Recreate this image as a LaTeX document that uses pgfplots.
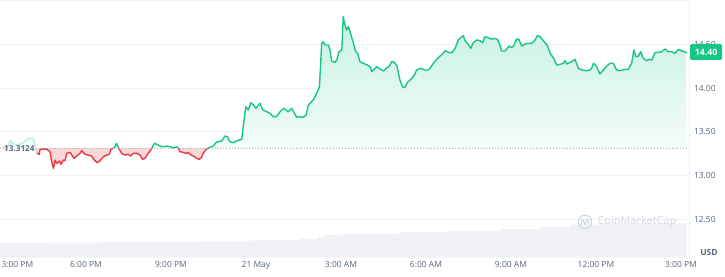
\documentclass[border=0pt]{standalone}
\usepackage{pgfplots}
\pgfplotsset{compat=1.18}
\usepackage{fontspec}
\setmainfont{Open Sans}
\definecolor{cmcgreen}{HTML}{16C784}
\definecolor{cmcred}{HTML}{EA3943}
\definecolor{gridc}{HTML}{EFF2F5}
\definecolor{labelc}{HTML}{58667E}
\definecolor{volc}{HTML}{EFF1F5}
\definecolor{wmark}{HTML}{D3D8E0}
\definecolor{basec}{HTML}{A6B0C3}
% rows 0 and 1: the 13.3124 reference level (close the filled area); rows 2.. : price
\pgfplotstableread{
h p
24.20 13.3124
-0.03 13.3124
-0.03 13.314
0.07 13.325
0.14 13.291
0.25 13.336
0.32 13.405
0.39 13.371
0.60 13.348
0.81 13.382
0.95 13.417
1.09 13.428
1.16 13.394
1.26 13.253
1.35 13.241
1.38 13.299
1.61 13.302
1.73 13.271
1.79 13.157
1.85 13.081
1.91 13.176
1.97 13.138
2.06 13.165
2.12 13.127
2.20 13.176
2.26 13.168
2.32 13.253
2.44 13.264
2.50 13.233
2.58 13.196
2.67 13.222
2.79 13.253
2.85 13.283
2.97 13.241
3.08 13.233
3.20 13.222
3.29 13.176
3.40 13.145
3.49 13.168
3.61 13.214
3.73 13.233
3.82 13.241
3.88 13.299
3.96 13.310
4.02 13.328
4.08 13.367
4.14 13.322
4.18 13.299
4.26 13.253
4.38 13.233
4.49 13.241
4.58 13.222
4.67 13.253
4.79 13.253
4.91 13.233
5.00 13.184
5.08 13.196
5.20 13.253
5.32 13.310
5.41 13.367
5.50 13.356
5.61 13.336
5.73 13.328
5.85 13.336
5.97 13.328
6.08 13.317
6.20 13.328
6.26 13.310
6.32 13.271
6.43 13.264
6.53 13.253
6.61 13.260
6.67 13.241
6.79 13.222
6.91 13.196
7.00 13.184
7.08 13.207
7.14 13.253
7.24 13.299
7.38 13.322
7.49 13.336
7.61 13.382
7.79 13.394
7.91 13.451
7.99 13.443
8.08 13.386
8.20 13.374
8.32 13.397
8.50 13.413
8.55 13.557
8.64 13.786
8.73 13.748
8.82 13.832
8.91 13.806
9.00 13.768
9.14 13.825
9.24 13.748
9.38 13.729
9.49 13.711
9.61 13.672
9.73 13.672
9.85 13.729
9.97 13.768
10.14 13.729
10.26 13.768
10.44 13.665
10.55 13.672
10.67 13.665
10.77 13.691
10.85 13.806
11.02 13.863
11.14 13.939
11.24 14.015
11.32 14.511
11.38 14.530
11.44 14.492
11.56 14.492
11.61 14.435
11.67 14.309
11.79 14.294
11.85 14.320
11.93 14.415
12.03 14.435
12.08 14.816
12.14 14.721
12.20 14.664
12.26 14.702
12.34 14.626
12.44 14.511
12.52 14.415
12.59 14.397
12.67 14.301
12.79 14.283
12.93 14.263
13.03 14.244
13.09 14.187
13.14 14.206
13.26 14.244
13.38 14.217
13.50 14.195
13.59 14.225
13.71 14.252
13.79 14.301
13.85 14.301
13.97 14.263
14.08 14.092
14.18 14.008
14.26 14.008
14.34 14.061
14.50 14.111
14.61 14.160
14.67 14.206
14.81 14.225
14.97 14.206
15.08 14.206
15.14 14.225
15.26 14.283
15.38 14.328
15.50 14.366
15.61 14.397
15.67 14.427
15.79 14.408
15.91 14.404
16.03 14.454
16.14 14.549
16.26 14.587
16.32 14.598
16.38 14.541
16.49 14.503
16.58 14.454
16.67 14.518
16.79 14.549
16.91 14.541
17.00 14.518
17.08 14.587
17.20 14.576
17.32 14.557
17.40 14.569
17.52 14.557
17.61 14.492
17.67 14.423
17.79 14.423
17.85 14.443
17.93 14.481
18.00 14.466
18.08 14.473
18.20 14.561
18.28 14.557
18.38 14.481
18.50 14.503
18.61 14.511
18.73 14.511
18.85 14.549
18.93 14.598
19.03 14.587
19.17 14.530
19.28 14.492
19.38 14.400
19.50 14.343
19.62 14.263
19.73 14.271
19.85 14.283
19.91 14.313
19.97 14.275
20.14 14.301
20.26 14.328
20.38 14.225
20.50 14.206
20.67 14.198
20.79 14.206
20.85 14.225
20.91 14.283
21.03 14.244
21.14 14.160
21.26 14.206
21.38 14.252
21.50 14.283
21.61 14.283
21.73 14.206
21.85 14.198
22.03 14.214
22.14 14.214
22.26 14.283
22.34 14.435
22.41 14.358
22.50 14.366
22.58 14.415
22.67 14.340
22.79 14.313
22.88 14.328
22.97 14.320
23.09 14.408
23.20 14.408
23.32 14.415
23.44 14.446
23.55 14.415
23.67 14.415
23.79 14.397
23.91 14.443
24.03 14.423
24.14 14.415
24.20 14.400
}\pricetable
\pgfplotstableread{
h v
-0.03 12.227
1.66 12.232
3.49 12.238
7.03 12.246
8.79 12.258
10.55 12.272
11.19 12.295
11.44 12.318
11.97 12.329
14.08 12.352
15.85 12.364
17.61 12.387
19.03 12.410
20.08 12.438
21.14 12.450
24.20 12.455
}\voltable
\begin{document}
\begin{tikzpicture}
\begin{axis}[
  at={(0,0)}, anchor=south west,
  scale only axis, width=689bp, height=257.5bp,
  xmin=-0.0353, xmax=24.285, ymin=12.061, ymax=15.007,
  axis line style={draw=none},
  major tick length=0pt,
  ymajorgrids, grid style={gridc, line width=0.8bp},
  ytick={12.5,13,13.5,14,14.5},
  extra y ticks={15}, extra y tick labels={},
  yticklabel pos=right,
  yticklabel style={anchor=west, xshift=1.5bp, text=labelc, font=\fontsize{8.5}{10}\selectfont},
  yticklabel={\pgfmathprintnumber[fixed,fixed zerofill,precision=2]{\tick}},
  /pgf/number format/assume math mode=true,
  xtick={3,6,9,12,15,18,21,24},
  xticklabels={6:00 PM,9:00 PM,21 May,3:00 AM,6:00 AM,9:00 AM,12:00 PM,3:00 PM},
  extra x ticks={0}, extra x tick labels={3:00 PM},
  extra x tick style={xticklabel style={anchor=north west, xshift=-3bp}},
  xticklabel style={text=labelc, font=\fontsize{8.5}{10}\selectfont, yshift=-0.5bp},
]
% volume
\addplot[const plot, fill=volc, draw=none] table[x=h,y=v] {\voltable} \closedcycle;
% above the reference level: green
\begin{scope}
\clip (axis cs:-1,13.3124) rectangle (axis cs:25,16);
\addplot[top color=cmcgreen!26, bottom color=cmcgreen!2, draw=none, fill opacity=0.92] table[x=h,y=p] {\pricetable} -- cycle;
\addplot[cmcgreen, line width=1.4bp, line join=round, skip coords between index={0}{2}] table[x=h,y=p] {\pricetable};
\end{scope}
% below the reference level: red
\begin{scope}
\clip (axis cs:-1,11) rectangle (axis cs:25,13.3124);
\addplot[fill=cmcred!20, draw=none] table[x=h,y=p] {\pricetable} -- cycle;
\addplot[cmcred, line width=1.4bp, line join=round, skip coords between index={0}{2}] table[x=h,y=p] {\pricetable};
\end{scope}
% baseline
\addplot[basec, dotted, line width=0.9bp] coordinates {(1.31,13.3124) (24.25,13.3124)};
\end{axis}
% right border line
\draw[gridc, line width=0.8bp] (689bp,0) -- (689bp,257.5bp);
% faded start of the line behind the reference label
\fill[white, opacity=0.72] (0,98bp) rectangle (37bp,122bp);
\node[text=labelc, inner xsep=0bp, inner ysep=1bp,
  font=\bfseries\fontsize{8.2}{9}\selectfont, anchor=west] at (4bp,109.4bp) {13.3124};
% current price label
\node[fill=cmcgreen, text=white, rounded corners=1.5bp, minimum height=16bp, minimum width=32bp,
  inner sep=0pt, font=\bfseries\fontsize{8.8}{10}\selectfont, anchor=west] at (690bp,205.5bp) {14.40};
% USD
\node[text=labelc, font=\bfseries\fontsize{8.5}{10}\selectfont, anchor=center] at (709bp,5.5bp) {USD};
% watermark
\draw[wmark, line width=1.1bp] (585bp,35.5bp) circle (6.8bp);
\draw[wmark, line width=1.1bp, line join=round] (580.5bp,32bp) -- (582.5bp,38.5bp) -- (585bp,33bp) -- (587.5bp,38.5bp) -- (589bp,33bp);
\node[text=wmark, font=\fontsize{11}{12}\selectfont, anchor=west] at (594bp,35.5bp) {CoinMarketCap};
\pgfresetboundingbox
\path (0,-19.5bp) rectangle (725bp,257.5bp);
\end{tikzpicture}
\end{document}
